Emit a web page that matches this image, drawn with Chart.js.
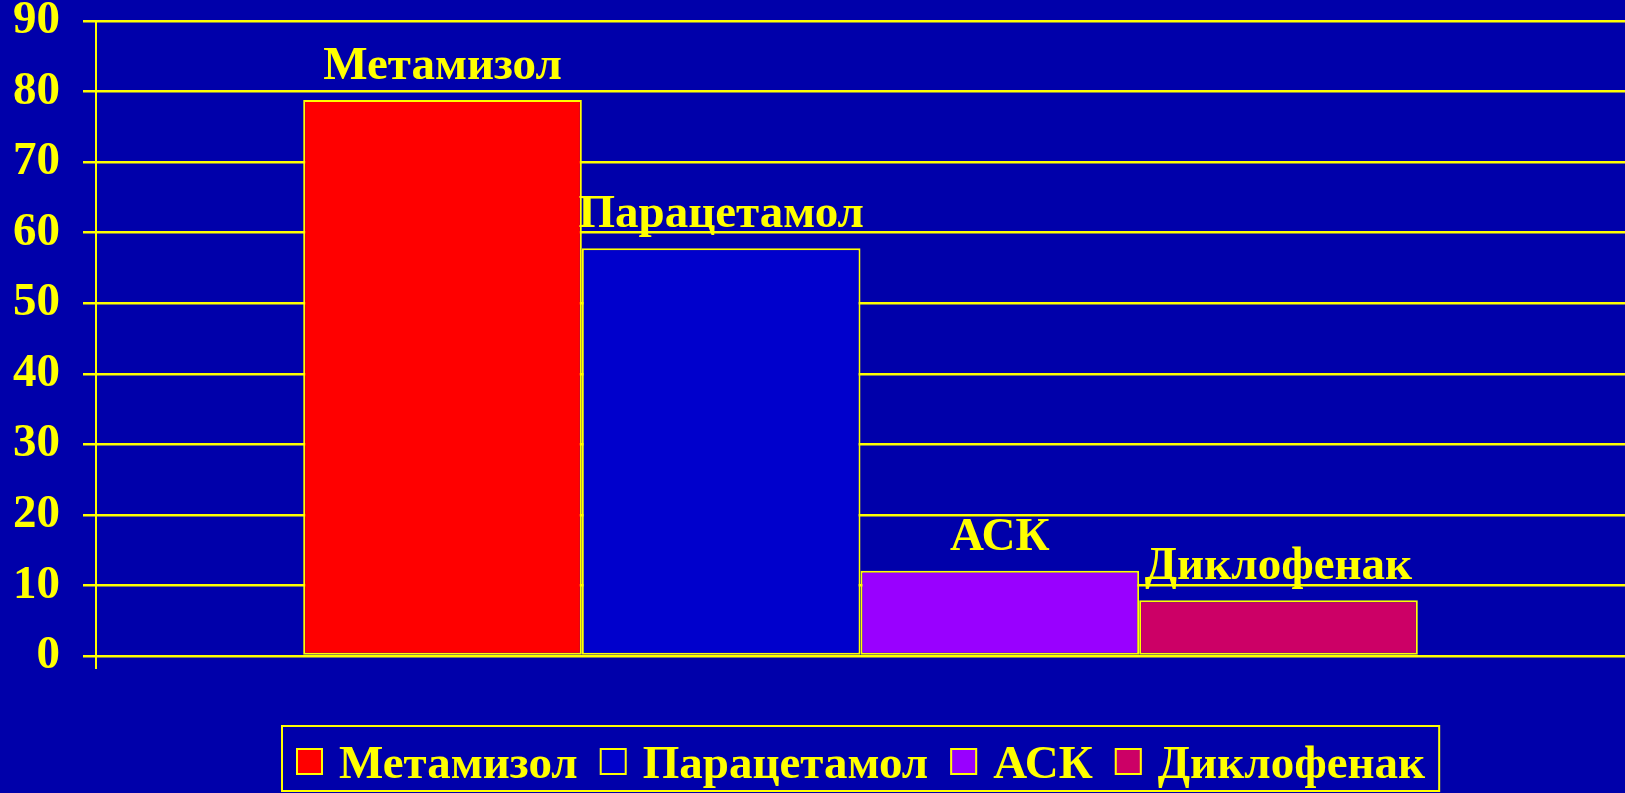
<!DOCTYPE html>
<html>
<head>
<meta charset="utf-8">
<script src="https://cdn.jsdelivr.net/npm/chart.js@4/dist/chart.umd.min.js"></script>
<style>
  html, body { margin: 0; padding: 0; background: #0000AA; }
  #wrap { width: 1625px; height: 793px; }
</style>
</head>
<body>
<div id="wrap"><canvas id="myChart" width="1625" height="793"></canvas></div>
<script>
// data
var drugs = ['Метамизол', 'Парацетамол', 'АСК', 'Диклофенак'];
var values = [78.8, 57.8, 12.1, 7.9];
var yMin = 0, yMax = 90, yStep = 10;

var barColors = ['#FF0000', '#0000CC', '#9900FF', '#CC0066'];
var yellow = '#FFFF00';
var serif = '"Liberation Serif", "Times New Roman", serif';

// names written above the bars
var barNames = {
  id: 'barNames',
  afterDatasetsDraw: function(chart) {
    var ctx = chart.ctx;
    ctx.save();
    ctx.fillStyle = yellow;
    ctx.font = 'bold 47px ' + serif;
    ctx.textAlign = 'center';
    ctx.textBaseline = 'alphabetic';
    chart.data.datasets.forEach(function(ds, i) {
      var bar = chart.getDatasetMeta(i).data[0];
      ctx.fillText(ds.label, bar.x, bar.y - 21);
    });
    ctx.restore();
  }
};

// boxed legend under the plot, centred on the plot area
var boxLegend = {
  id: 'boxLegend',
  afterDraw: function(chart) {
    var ctx = chart.ctx;
    var area = chart.chartArea;
    var sq = 27, gapText = 16, gapItem = 22, padL = 14, padR = 14;
    ctx.save();
    ctx.font = 'bold 47px ' + serif;
    var widths = chart.data.datasets.map(function(ds) { return ctx.measureText(ds.label).width; });
    var total = padL + padR + gapItem * (widths.length - 1);
    widths.forEach(function(w) { total += sq + gapText + w; });
    var left = Math.round((area.left + area.right) / 2 - total / 2);
    var bottom = chart.height - 2, top = bottom - 65;

    ctx.strokeStyle = yellow;
    ctx.lineWidth = 2;
    ctx.strokeRect(left, top, total, bottom - top);

    var x = left + padL;
    var midY = (top + bottom) / 2 + 3;
    chart.data.datasets.forEach(function(ds, i) {
      ctx.fillStyle = ds.backgroundColor;
      ctx.fillRect(x, midY - sq / 2, sq, sq);
      ctx.strokeStyle = yellow;
      ctx.lineWidth = 2;
      ctx.strokeRect(x + 1, midY - sq / 2 + 1, sq - 2, sq - 2);
      x += sq + gapText;
      ctx.fillStyle = yellow;
      ctx.textAlign = 'left';
      ctx.textBaseline = 'alphabetic';
      ctx.fillText(ds.label, x, midY + 16);
      x += widths[i] + gapItem;
    });
    ctx.restore();
  }
};

var ctx = document.getElementById('myChart');
var myChart = new Chart(ctx, {
  type: 'bar',
  data: {
    labels: [''],
    datasets: drugs.map(function(name, i) {
      return {
        label: name,
        data: [values[i]],
        backgroundColor: barColors[i],
        borderColor: yellow,
        borderWidth: 2,
        borderSkipped: false
      };
    })
  },
  options: {
    responsive: false,
    animation: false,
    devicePixelRatio: 1,
    layout: { padding: { top: 21, right: 0, bottom: 124, left: 0 } },
    datasets: { bar: { categoryPercentage: 0.729, barPercentage: 1.0 } },
    plugins: {
      legend: { display: false },
      tooltip: { enabled: false }
    },
    scales: {
      x: {
        offset: true,
        ticks: { display: false },
        grid: {
          offset: true,
          drawOnChartArea: false,
          drawTicks: true,
          tickLength: 13,
          // only the left-hand tick below the axis is shown
          color: function(c) { return c.index === 0 ? yellow : 'rgba(0,0,0,0)'; },
          lineWidth: 2
        },
        border: { display: false }
      },
      y: {
        min: yMin,
        max: yMax,
        afterFit: function(scale) {
          scale.width = 96;
          // let the top label hang over the plot edge
          scale.paddingTop = 0;
          scale.paddingBottom = 0;
        },
        ticks: {
          stepSize: yStep,
          color: yellow,
          padding: 23,
          font: { family: serif, size: 47, weight: 'bold' }
        },
        grid: {
          color: yellow,
          lineWidth: 2.5,
          tickLength: 13
        },
        border: { display: true, color: yellow, width: 2 }
      }
    }
  },
  plugins: [barNames, boxLegend]
});
</script>
</body>
</html>
